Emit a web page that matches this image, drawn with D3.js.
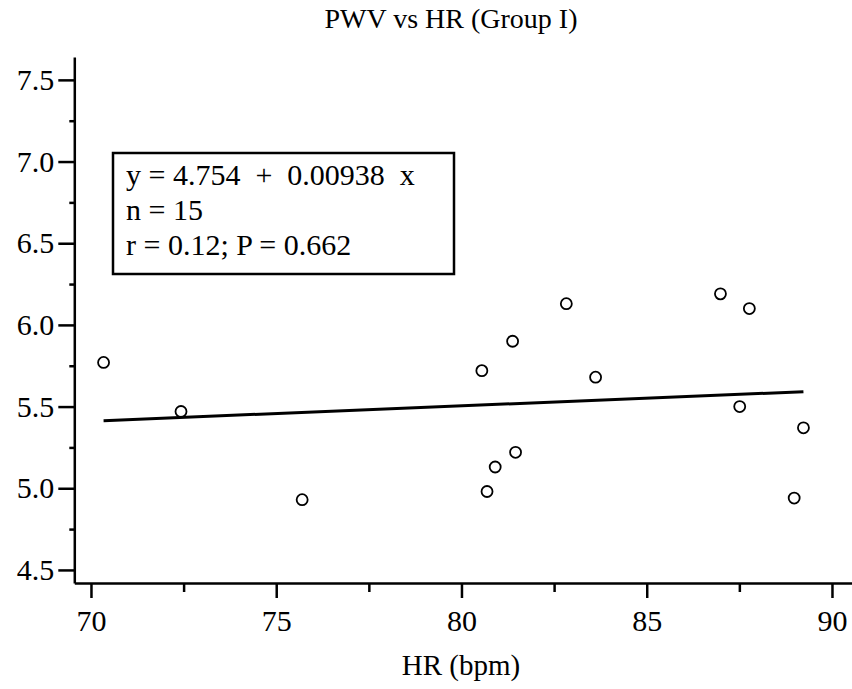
<!DOCTYPE html>
<html>
<head>
<meta charset="utf-8">
<script src="https://cdn.jsdelivr.net/npm/d3@7"></script>
<style>
  body { margin: 0; background: #fff; }
  text { font-family: "Liberation Serif", "Times New Roman", serif; fill: #000; }
</style>
</head>
<body>
<div id="graph"></div>
<script>
// data
const hr  = [70.34, 72.43, 75.70, 80.55, 80.69, 80.91, 81.38, 81.46, 82.83, 83.62, 86.99, 87.51, 87.77, 88.98, 89.23];
const pwv = [5.77, 5.47, 4.93, 5.72, 4.98, 5.13, 5.90, 5.22, 6.13, 5.68, 6.19, 5.50, 6.10, 4.94, 5.37];
const intercept = 4.754, slope = 0.00938;
const xTicks = [70, 75, 80, 85, 90];
const xMinor = [72.5, 77.5, 82.5, 87.5];
const yTicks = [4.5, 5.0, 5.5, 6.0, 6.5, 7.0, 7.5];
const yMinor = [4.75, 5.25, 5.75, 6.25, 6.75, 7.25];
const statLines = ["y = 4.754  +  0.00938  x", "n = 15", "r = 0.12; P = 0.662"];

const width = 852, height = 689;
const data = hr.map(function(d, i) { return {x: d, y: pwv[i]}; });

let svg = d3.select("#graph")
    .append("svg")
    .attr("width", width)
    .attr("height", height);

let x = d3.scaleLinear()
    .domain([69.55, 90.6])
    .range([74.3, 854.2]);
let y = d3.scaleLinear()
    .domain([4.42, 7.64])
    .range([583, 57]);

// x axis
svg.append("g")
    .attr("transform", "translate(0," + y(4.42) + ")")
    .call(d3.axisBottom(x).tickValues(xTicks).tickFormat(d3.format("d")).tickSize(15).tickSizeOuter(0).tickPadding(12));
svg.append("g")
    .attr("transform", "translate(0," + y(4.42) + ")")
    .call(d3.axisBottom(x).tickValues(xMinor).tickFormat("").tickSize(9).tickSizeOuter(0))
    .select(".domain").remove();

// y axis
svg.append("g")
    .attr("transform", "translate(" + x(69.55) + ",0)")
    .call(d3.axisLeft(y).tickValues(yTicks).tickFormat(d3.format(".1f")).tickSize(16).tickSizeOuter(0).tickPadding(4));
svg.append("g")
    .attr("transform", "translate(" + x(69.55) + ",0)")
    .call(d3.axisLeft(y).tickValues(yMinor).tickFormat("").tickSize(5).tickSizeOuter(0))
    .select(".domain").remove();

svg.selectAll(".domain, .tick line")
    .attr("stroke", "#000")
    .attr("stroke-width", 2.5);
svg.selectAll(".tick text")
    .style("font-family", "'Liberation Serif', serif")
    .style("font-size", "30px")
    .attr("fill", "#000");

// regression line
let xs = d3.extent(hr);
svg.append("line")
    .attr("x1", x(xs[0]))
    .attr("x2", x(xs[1]))
    .attr("y1", y(intercept + slope * xs[0]))
    .attr("y2", y(intercept + slope * xs[1]))
    .attr("stroke", "#000")
    .attr("stroke-width", 3);

// points
svg.selectAll("mypoints")
    .data(data)
    .enter()
    .append("circle")
    .attr("cx", function(d) { return x(d.x); })
    .attr("cy", function(d) { return y(d.y); })
    .attr("r", 5.5)
    .attr("fill", "none")
    .attr("stroke", "#000")
    .attr("stroke-width", 1.8);

// stats box
svg.append("rect")
    .attr("x", 113)
    .attr("y", 153)
    .attr("width", 341)
    .attr("height", 121)
    .attr("fill", "#fff")
    .attr("stroke", "#000")
    .attr("stroke-width", 2.5);
svg.selectAll("statlines")
    .data(statLines)
    .enter()
    .append("text")
    .attr("x", 126)
    .attr("y", function(d, i) { return 185 + i * 35; })
    .attr("xml:space", "preserve")
    .style("white-space", "pre")
    .style("font-size", "30px")
    .text(function(d) { return d; });

svg.append("text")
    .text("PWV vs HR (Group I)")
    .attr("x", 451)
    .attr("y", 28)
    .style("text-anchor", "middle")
    .style("font-size", "28px");

svg.append("text")
    .text("HR (bpm)")
    .attr("x", 461)
    .attr("y", 675)
    .style("text-anchor", "middle")
    .style("font-size", "29px");
</script>
</body>
</html>
